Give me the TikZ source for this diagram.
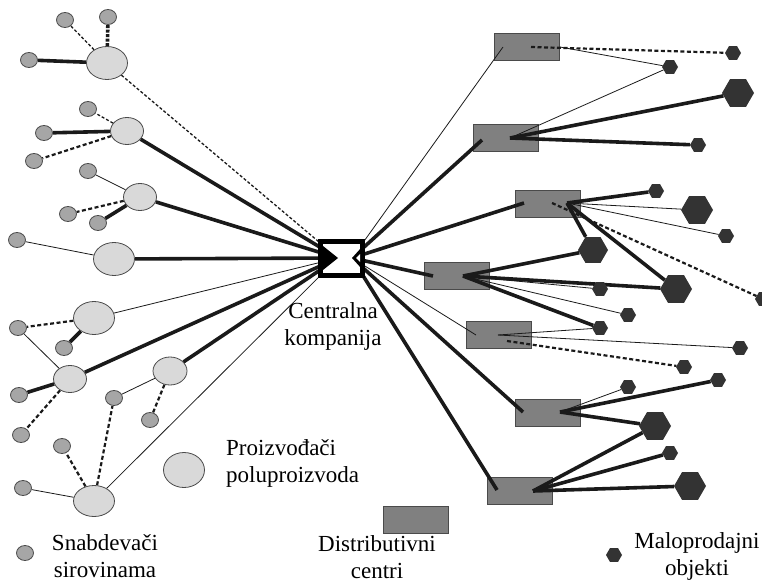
\documentclass[tikz,border=0pt]{standalone}
\usepackage{fontspec}
\setmainfont{Liberation Serif}
\usetikzlibrary{shapes.geometric,calc}
\pgfdeclarelayer{rects}
\pgfdeclarelayer{lines}
\pgfsetlayers{rects,lines,main}
\definecolor{prodfill}{HTML}{D9D9D9}
\definecolor{supfill}{HTML}{A6A6A6}
\definecolor{edgegray}{HTML}{4A4A4A}
\definecolor{dcfill}{HTML}{808080}
\definecolor{hexfill}{HTML}{333333}
\definecolor{ink}{HTML}{1A1A1A}
\tikzset{
  prodbig/.style={ellipse,draw=edgegray,fill=prodfill,line width=0.8pt,inner sep=0pt,minimum width=41pt,minimum height=33pt},
  prodmed/.style={ellipse,draw=edgegray,fill=prodfill,line width=0.8pt,inner sep=0pt,minimum width=33pt,minimum height=27pt},
  sup/.style={ellipse,draw=edgegray,fill=supfill,line width=0.8pt,inner sep=0pt,minimum width=17pt,minimum height=15pt},
  dc/.style={rectangle,draw=edgegray,fill=dcfill,line width=0.8pt,inner sep=0pt,minimum width=65pt,minimum height=27pt},
  hexs/.style={regular polygon,regular polygon sides=6,fill=hexfill,inner sep=0pt,minimum size=16pt},
  hexb/.style={regular polygon,regular polygon sides=6,fill=hexfill,inner sep=0pt,minimum size=32pt},
  cbox/.style={rectangle,draw=black,fill=white,line width=5pt,inner sep=0pt,minimum width=42pt,minimum height=34pt},
  thickln/.style={draw=ink,line width=3.6pt},
  thinln/.style={draw=ink,line width=0.8pt},
  thindash/.style={draw=ink,line width=1.3pt,dash pattern=on 3pt off 2pt},
  meddash/.style={draw=ink,line width=2.2pt,dash pattern=on 4pt off 2.5pt},
  heavydash/.style={draw=ink,line width=3.6pt,dash pattern=on 3pt off 1.5pt},
  lbl/.style={inner sep=0pt,align=center,font=\fontsize{23}{27}\selectfont,text=black}
}
\begin{document}
\begin{tikzpicture}[x=1pt,y=-1pt]
\useasboundingbox (0,0) rectangle (762,583);

% ---------- distribution centres (bottom layer) ----------
\begin{pgfonlayer}{rects}
\node[dc] (D1) at (527,47) {};
\node[dc] (D2) at (506,138) {};
\node[dc] (D3) at (548,204) {};
\node[dc] (D4) at (457,276) {};
\node[dc] (D5) at (499,335) {};
\node[dc] (D6) at (548,413) {};
\node[dc] (D7) at (520,491) {};
\node[dc] (DL) at (416,520) {};
\end{pgfonlayer}

% ---------- central company ----------
\node[cbox] (C) at (341.5,258.5) {};
\coordinate (CL) at (338,258);
\coordinate (CR) at (352,258);
\fill (323,246) -- (338,258) -- (323,270) -- cycle;
\fill (352,258) -- (361,248) -- (361,268) -- cycle;
\fill[white] (356,258) -- (360,254) -- (360,262) -- cycle;

% ---------- producers of semi-products ----------
\node[prodbig] (P1) at (107,63) {};
\node[prodmed] (P2) at (127,131) {};
\node[prodmed] (P3) at (140,197) {};
\node[prodbig] (P4) at (114,259) {};
\node[prodbig] (P5) at (94,318) {};
\node[prodmed] (P6) at (70,379) {};
\node[prodmed,minimum width=34pt,minimum height=28pt] (P7) at (170,371) {};
\node[prodbig,minimum height=31pt] (P8) at (94,501) {};
\node[prodbig,minimum height=35pt] (PL) at (184,470) {};

% ---------- raw material suppliers ----------
\node[sup] (S1) at (65,20) {};
\node[sup] (S2) at (108,17) {};
\node[sup] (S3) at (29,60) {};
\node[sup] (S4) at (88,109) {};
\node[sup] (S5) at (44,133) {};
\node[sup] (S6) at (34,161) {};
\node[sup] (S7) at (88,171) {};
\node[sup] (S8) at (68,214) {};
\node[sup] (S9) at (98,223) {};
\node[sup] (S10) at (17,240) {};
\node[sup] (S11) at (18,328) {};
\node[sup] (S12) at (64,348) {};
\node[sup] (S13) at (19,395) {};
\node[sup] (S14) at (21,435) {};
\node[sup] (S15) at (114,398) {};
\node[sup] (S16) at (150,420) {};
\node[sup] (S17) at (62,446) {};
\node[sup] (S18) at (23,488) {};
\node[sup] (SL) at (25,553) {};

% ---------- retail outlets ----------
\node[hexs] (H1) at (733,53) {};
\node[hexs] (H2) at (670,67) {};
\node[hexb] (H3) at (738,93) {};
\node[hexs] (H4) at (698,145) {};
\node[hexs] (H5) at (656,191) {};
\node[hexb] (H6) at (697,210) {};
\node[hexs] (H7) at (726,236) {};
\node[hexb,minimum size=30pt] (H8) at (593,250) {};
\node[hexb] (H9) at (676,289) {};
\node[hexs] (H10) at (763,299) {};
\node[hexs] (H11) at (600,289) {};
\node[hexs] (H12) at (628,315) {};
\node[hexs] (H13) at (600,328) {};
\node[hexs] (H14) at (740,348) {};
\node[hexs] (H15) at (684,367) {};
\node[hexs] (H16) at (718,380) {};
\node[hexs] (H17) at (628,387) {};
\node[hexb] (H18) at (655,426) {};
\node[hexs] (H19) at (670,453) {};
\node[hexb] (H20) at (690,486) {};
\node[hexs] (HL) at (614,555) {};

% ---------- interior attachment points of the centres ----------
\coordinate (D1i) at ($(D1)+(-24,0)$);  \coordinate (D1o) at ($(D1)+(4,0)$);
\coordinate (D2i) at ($(D2)+(-24,2)$);  \coordinate (D2o) at ($(D2)+(4,0)$);
\coordinate (D3i) at ($(D3)+(-24,-1)$); \coordinate (D3o) at ($(D3)+(19,-1)$);
\coordinate (D3d) at ($(D3)+(4,-1)$);
\coordinate (D4i) at ($(D4)+(-24,0)$);  \coordinate (D4o) at ($(D4)+(6,0)$);
\coordinate (D5i) at ($(D5)+(-23,0)$);  \coordinate (D5o) at ($(D5)+(-1,0)$);
\coordinate (D5d) at ($(D5)+(8,6)$);
\coordinate (D6i) at ($(D6)+(-25,-1)$); \coordinate (D6o) at ($(D6)+(12,-1)$);
\coordinate (D7i) at ($(D7)+(-23,-1)$); \coordinate (D7o) at ($(D7)+(13,0)$);

% ---------- connectors ----------
\begin{pgfonlayer}{lines}
% left side
\path[thindash] (P1) -- (S1);
\path[heavydash] (P1) -- (S2);
\path[thickln] (P1) -- (S3);
\path[thindash] (P1) -- (CL);
\path[thindash] (P2) -- (S4);
\path[thickln] (P2) -- (S5);
\path[meddash] (P2) -- (S6);
\path[thickln] (P2) -- (CL);
\path[thinln] (P3) -- (S7);
\path[meddash] (P3) -- (S8);
\path[thickln] (P3) -- (S9);
\path[thickln] (P3) -- (CL);
\path[thinln] (P4) -- (S10);
\path[thickln] (P4) -- (CL);
\path[meddash] (P5) -- (S11);
\path[thickln] (P5) -- (S12);
\path[thinln] (P5) -- (CL);
\path[thinln] (S11) -- (P6);
\path[thickln] (P6) -- (S13);
\path[meddash] (P6) -- (S14);
\path[thickln] (P6) -- (CL);
\path[thinln] (P7) -- (S15);
\path[meddash] (P7) -- (S16);
\path[thickln] (P7) -- (CL);
\path[meddash] (P8) -- (S15);
\path[meddash] (P8) -- (S17);
\path[thinln] (P8) -- (S18);
\path[thinln] (P8) -- (CL);
% centre to distribution centres
\path[thinln] (CR) -- (D1i);
\path[thickln] (CR) -- (D2i);
\path[thickln] (CR) -- (D3i);
\path[thickln] (CR) -- (D4i);
\path[thinln] (CR) -- (D5i);
\path[thickln] (CR) -- (D6i);
\path[thickln] (CR) -- (D7i);
% distribution centres to outlets
\path[meddash] (D1o) -- (H1);
\path[thinln] (D1.east) -- (H2);
\path[thinln] (D2o) -- (H2);
\path[thickln] (D2o) -- (H3);
\path[thickln] (D2o) -- (H4);
\path[thickln] (D3o) -- (H5);
\path[thinln] (D3o) -- (H6);
\path[thinln] (D3o) -- (H7);
\path[thickln] (D3o) -- (H8);
\path[thickln] (D3o) -- (H9);
\path[meddash] (D3d) -- (H10);
\path[thickln] (D4o) -- (H8);
\path[thickln] (D4o) -- (H9);
\path[thinln] (D4o) -- (H11);
\path[thinln] (D4o) -- (H12);
\path[thickln] (D4o) -- (H13);
\path[thinln] (D5o) -- (H13);
\path[thinln] (D5o) -- (H14);
\path[meddash] (D5d) -- (H15);
\path[thinln] (D6o) -- (H17);
\path[thickln] (D6o) -- (H16);
\path[thickln] (D6o) -- (H18);
\path[thickln] (D7o) -- (H18);
\path[thickln] (D7o) -- (H19);
\path[thickln] (D7o) -- (H20);
\end{pgfonlayer}

% ---------- labels ----------
\node[lbl,anchor=north] (tC) at (333,302) {Centralna\\kompanija};
\node[lbl,anchor=north west,align=left] (tP) at (226,439) {Proizvođači\\poluproizvoda};
\node[lbl,anchor=north] (tD) at (377,535) {Distributivni\\centri};
\node[lbl,anchor=north] (tM) at (697,532) {Maloprodajni\\objekti};
\node[lbl,anchor=north] (tS) at (105,534) {Snabdevači\\sirovinama};
\end{tikzpicture}
\end{document}
